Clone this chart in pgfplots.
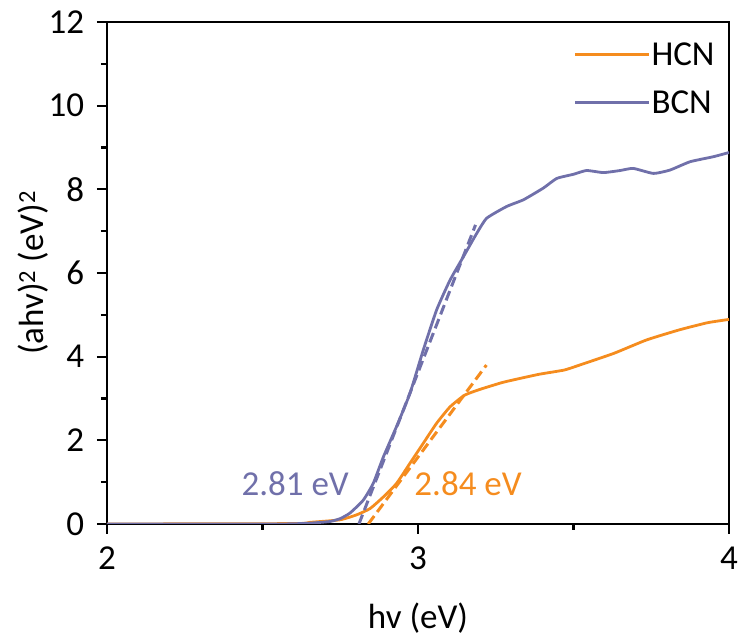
\documentclass[border=0pt]{standalone}
\usepackage{pgfplots}
\pgfplotsset{compat=1.18}
\usepackage{fontspec}
\setmainfont{Carlito}

\definecolor{hcn}{RGB}{245,140,30}
\definecolor{bcn}{RGB}{112,112,170}

\newcommand{\bigfont}{\fontsize{35bp}{42bp}\selectfont}

\begin{document}
\bigfont
\begin{tikzpicture}[x=1bp,y=1bp]
\path[use as bounding box] (-107,-113) rectangle (635,524);
\begin{axis}[
  at={(0,0)}, anchor=origin,
  scale only axis,
  width=622bp, height=502bp,
  xmin=2, xmax=4, ymin=0, ymax=12,
  xtick={2,3,4}, ytick={0,2,...,12},
  minor xtick={2.5,3.5}, minor ytick={1,3,...,11},
  tick align=outside,
  xtick pos=left, ytick pos=left,
  major tick length=10bp, minor tick length=6bp,
  every tick/.style={black, line width=2.2bp},
  axis line style={line width=2.5bp},
  tick label style={font=\bigfont},
  /pgf/number format/assume math mode=true,
  xticklabel style={yshift=-1bp},
  yticklabel style={xshift=-1bp},
  xlabel={hv (eV)},
  ylabel={(ahv)\textsuperscript{2} (eV)\textsuperscript{2}},
  label style={font=\bigfont},
  xlabel style={at={(axis description cs:0.5,0)}, anchor=base, yshift=-104bp},
  ylabel style={at={(axis description cs:0,0.5)}, anchor=base, yshift=63bp},
  legend style={draw=none, fill=none, at={(rel axis cs:0.750,0.96)}, anchor=north west,
    inner sep=0pt, row sep=23bp,
    font=\bigfont,
    nodes={inner sep=1bp, text depth=0pt}},
  legend cell align=left,
  legend image code/.code={%
    \path (0bp,0bp) -- (74bp,0bp);
    \draw[#1, line width=2.8bp] (0bp,0bp) -- (59bp,0bp);},
  clip=true,
]
% HCN absorption edge
\addplot[hcn, line width=2.8bp, smooth, tension=0.3] coordinates {
 (2.0,0) (2.6,0.01) (2.653,0.04) (2.749,0.10) (2.803,0.22) (2.846,0.37)
 (2.889,0.65) (2.931,0.97) (2.974,1.45) (3.017,1.93) (3.060,2.41)
 (3.103,2.80) (3.150,3.08) (3.200,3.22) (3.270,3.38) (3.310,3.45)
 (3.390,3.58) (3.470,3.68) (3.520,3.80) (3.630,4.08) (3.735,4.40)
 (3.840,4.64) (3.930,4.81) (4.0,4.89)
};
\addlegendentry{HCN}
% BCN absorption edge
\addplot[bcn, line width=2.8bp, smooth, tension=0.3] coordinates {
 (2.0,0) (2.55,0) (2.65,0.02) (2.717,0.06) (2.75,0.13) (2.781,0.26)
 (2.824,0.57) (2.856,0.97) (2.889,1.61) (2.931,2.33) (2.974,3.12)
 (3.017,4.16) (3.060,5.12) (3.103,5.83) (3.146,6.39) (3.189,6.95)
 (3.221,7.31) (3.285,7.59) (3.339,7.75) (3.403,8.03) (3.446,8.26)
 (3.500,8.36) (3.542,8.45) (3.596,8.40) (3.650,8.45) (3.692,8.50)
 (3.757,8.38) (3.810,8.46) (3.875,8.66) (3.950,8.78) (4.0,8.88)
};
\addlegendentry{BCN}
% Tangent lines marking the band gaps
\addplot[bcn, line width=3bp, dash pattern=on 10bp off 5bp, forget plot] coordinates {(2.81,0) (3.185,7.15)};
\addplot[hcn, line width=3bp, dash pattern=on 10bp off 5bp, forget plot] coordinates {(2.84,0) (3.22,3.80)};
\node[bcn, anchor=base, font=\bigfont] at (axis cs:2.605,0.69) {2.81 eV};
\node[hcn, anchor=base, font=\bigfont] at (axis cs:3.161,0.69) {2.84 eV};
\end{axis}
\end{tikzpicture}
\end{document}
